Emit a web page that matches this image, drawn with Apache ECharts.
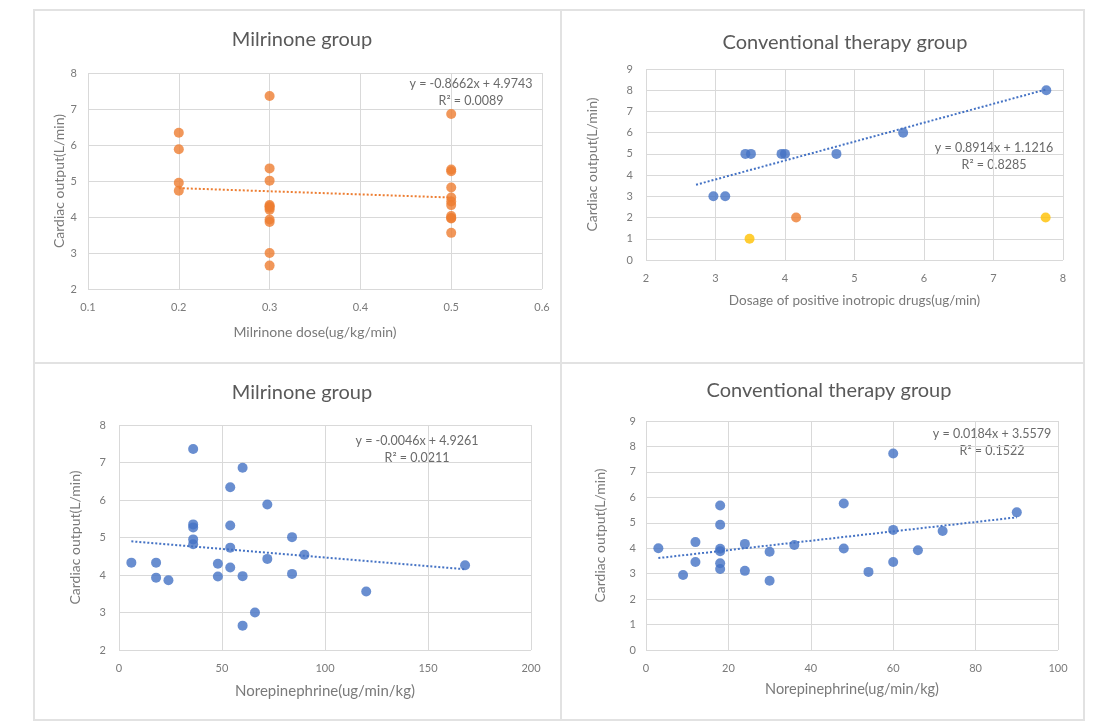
<!DOCTYPE html>
<html>
<head>
<meta charset="utf-8">
<script src="https://cdn.jsdelivr.net/npm/echarts@6/dist/echarts.min.js"></script>
<style>
  html, body { margin: 0; padding: 0; background: #fff; }
  #main { width: 1098px; height: 725px; }
</style>
</head>
<body>
<div id="main"></div>
<script>
// panel 1: milrinone dose vs cardiac output
var milDose = [0.2, 0.2, 0.2, 0.2,
  0.3, 0.3, 0.3, 0.3, 0.3, 0.3, 0.3, 0.3, 0.3, 0.3, 0.3,
  0.5, 0.5, 0.5, 0.5, 0.5, 0.5, 0.5, 0.5, 0.5, 0.5, 0.5];
var milDoseCO = [6.34, 5.88, 4.95, 4.73,
  7.36, 5.35, 5.01, 4.33, 4.30, 4.26, 4.20, 3.93, 3.86, 3.00, 2.65,
  6.86, 5.32, 5.27, 4.82, 4.54, 4.43, 4.33, 4.03, 3.97, 3.96, 3.56];
var milDoseFit = [-0.8662, 4.9743];
var milDoseFitX = [0.2, 0.5];

// panel 2: conventional group, positive inotropic drugs
var convDrugX = [2.97, 3.14, 3.43, 3.51, 3.95, 4.0, 4.74, 5.70, 7.76];
var convDrugCO = [3, 3, 5, 5, 5, 5, 5, 6, 8];
var convDrugX2 = [4.16];
var convDrugCO2 = [2];
var convDrugX3 = [3.49, 7.75];
var convDrugCO3 = [1, 2];
var convDrugFit = [0.8914, 1.1216];
var convDrugFitX = [2.72, 7.76];

// panel 3: milrinone group, norepinephrine
var milNE = [6, 18, 18, 24, 36, 36, 36, 36, 36, 48, 48, 54, 54, 54, 54,
  60, 60, 60, 66, 72, 72, 84, 84, 90, 120, 168];
var milNECO = [4.33, 4.33, 3.93, 3.86, 7.36, 5.35, 5.27, 4.95, 4.82, 4.30, 3.96,
  6.34, 5.32, 4.73, 4.20, 6.86, 3.97, 2.65, 3.00, 5.88, 4.43, 5.01, 4.03, 4.54, 3.56, 4.26];
var milNEFit = [-0.0046, 4.9261];
var milNEFitX = [6, 168];

// panel 4: conventional group, norepinephrine
var convNE = [3, 9, 12, 12, 18, 18, 18, 18, 18, 18, 24, 24, 30, 30, 36,
  48, 48, 54, 60, 60, 60, 66, 72, 90];
var convNECO = [4.0, 2.95, 4.24, 3.46, 5.68, 4.92, 3.98, 3.88, 3.41, 3.18, 4.17, 3.11,
  3.86, 2.72, 4.13, 5.76, 3.99, 3.07, 7.72, 4.72, 3.46, 3.92, 4.68, 5.41];
var convNEFit = [0.0184, 3.5579];
var convNEFitX = [3, 90];

var BLUE = '#4472C4', ORANGE = '#ED7D31', YELLOW = '#FFC000';
var FONT = 'Lato';
var TXT = '#7a7a7a';

function pairs(xs, ys) {
  return xs.map(function (x, i) { return [x, ys[i]]; });
}
function fitLine(coef, xr) {
  return xr.map(function (x) { return [x, coef[0] * x + coef[1]]; });
}
function fmtEq(coef) {
  var s = coef[1] < 0 ? ' - ' : ' + ';
  return 'y = ' + coef[0].toFixed(4) + 'x' + s + Math.abs(coef[1]).toFixed(4);
}

function xAx(idx, min, max, step, name, gap, dec, nameSize) {
  return {
    type: 'value', gridIndex: idx, min: min, max: max, interval: step,
    name: name, nameLocation: 'middle', nameGap: gap,
    nameTextStyle: { color: TXT, fontFamily: FONT, fontSize: nameSize },
    axisLine: { show: false }, axisTick: { show: false },
    axisLabel: { color: TXT, fontFamily: FONT, fontSize: 11, margin: 13,
      formatter: function (v) { return dec ? v.toFixed(dec) : v; } },
    splitLine: { show: true, lineStyle: { color: '#d9d9d9' } }
  };
}
function yAx(idx, min, max, gap, margin) {
  return {
    type: 'value', gridIndex: idx, min: min, max: max, interval: 1,
    name: 'Cardiac output(L/min)', nameLocation: 'middle', nameGap: gap,
    nameTextStyle: { color: TXT, fontFamily: FONT, fontSize: 14 },
    axisLine: { show: false }, axisTick: { show: false },
    axisLabel: { color: TXT, fontFamily: FONT, fontSize: 11, margin: margin },
    splitLine: { show: true, lineStyle: { color: '#d9d9d9' } }
  };
}
function dots(idx, data, color) {
  return { type: 'scatter', xAxisIndex: idx, yAxisIndex: idx, data: data,
    symbolSize: 10, itemStyle: { color: color } };
}
function trend(idx, data, color) {
  return { type: 'line', xAxisIndex: idx, yAxisIndex: idx, data: data,
    symbol: 'none', lineStyle: { color: color, width: 2, type: [2, 2] } };
}
function eqText(x, y, coef, r2) {
  var st = { fill: '#6a6a6a', font: '12.5px ' + FONT, textAlign: 'center', textVerticalAlign: 'middle' };
  return [
    { type: 'text', x: x, y: y, style: Object.assign({ text: fmtEq(coef) }, st) },
    { type: 'text', x: x, y: y + 17, style: Object.assign({ text: 'R\u00b2 = ' + r2 }, st) }
  ];
}

var chart = echarts.init(document.getElementById('main'));
var titleStyle = { color: '#595959', fontFamily: FONT, fontSize: 20, fontWeight: 'normal' };

var option = {
  animation: false,
  backgroundColor: '#fff',
  title: [
    { text: 'Milrinone group', left: 297, top: 25, textAlign: 'center', textStyle: titleStyle },
    { text: 'Conventional therapy group', left: 840, top: 28, textAlign: 'center', textStyle: titleStyle },
    { text: 'Milrinone group', left: 297, top: 378, textAlign: 'center', textStyle: titleStyle },
    { text: 'Conventional therapy group', left: 824, top: 376, textAlign: 'center', textStyle: titleStyle }
  ],
  grid: [
    { left: 88, top: 73, width: 454, height: 216 },
    { left: 646, top: 69, width: 417, height: 191 },
    { left: 119, top: 425, width: 412, height: 225 },
    { left: 646, top: 421, width: 412, height: 229 }
  ],
  xAxis: [
    xAx(0, 0.1, 0.6, 0.1, 'Milrinone dose(ug/kg/min)', 36, 1, 14),
    xAx(1, 2, 8, 1, 'Dosage of positive inotropic drugs(ug/min)', 34, 0, 13.5),
    xAx(2, 0, 200, 50, 'Norepinephrine(ug/min/kg)', 34, 0, 15),
    xAx(3, 0, 100, 20, 'Norepinephrine(ug/min/kg)', 32, 0, 14.5)
  ],
  yAxis: [
    yAx(0, 2, 8, 19, 11),
    yAx(1, 0, 9, 47, 13),
    yAx(2, 2, 8, 37, 13),
    yAx(3, 0, 9, 39, 10)
  ],
  series: [
    trend(0, fitLine(milDoseFit, milDoseFitX), ORANGE),
    dots(0, pairs(milDose, milDoseCO), ORANGE),
    trend(1, fitLine(convDrugFit, convDrugFitX), BLUE),
    dots(1, pairs(convDrugX, convDrugCO), BLUE),
    dots(1, pairs(convDrugX2, convDrugCO2), ORANGE),
    dots(1, pairs(convDrugX3, convDrugCO3), YELLOW),
    trend(2, fitLine(milNEFit, milNEFitX), BLUE),
    dots(2, pairs(milNE, milNECO), BLUE),
    trend(3, fitLine(convNEFit, convNEFitX), BLUE),
    dots(3, pairs(convNE, convNECO), BLUE)
  ],
  graphic: [
    // panel frames
    { type: 'rect', shape: { x: 34, y: 10, width: 1050, height: 710 },
      style: { fill: 'none', stroke: '#e2e2e2', lineWidth: 2 }, silent: true },
    { type: 'line', shape: { x1: 561, y1: 10, x2: 561, y2: 720 },
      style: { stroke: '#e2e2e2', lineWidth: 2 }, silent: true },
    { type: 'line', shape: { x1: 34, y1: 363, x2: 1084, y2: 363 },
      style: { stroke: '#e2e2e2', lineWidth: 2 }, silent: true }
  ]
    .concat(eqText(471, 84, milDoseFit, '0.0089'))
    .concat(eqText(994, 148, convDrugFit, '0.8285'))
    .concat(eqText(417, 441, milNEFit, '0.0211'))
    .concat(eqText(992, 434, convNEFit, '0.1522'))
};
chart.setOption(option);
</script>
</body>
</html>
